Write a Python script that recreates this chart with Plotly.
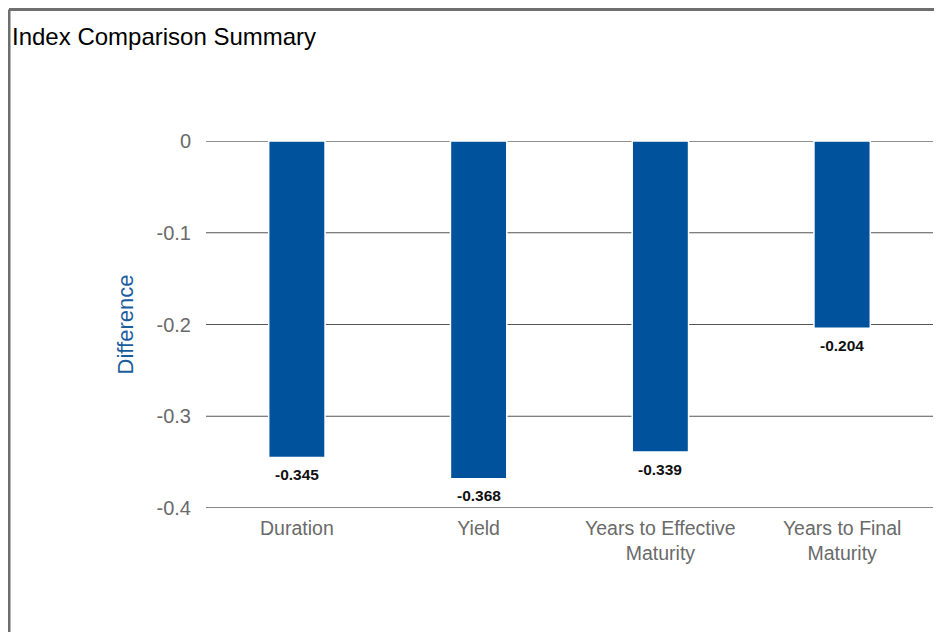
import plotly.graph_objects as go

categories = ["Duration", "Yield", "Years to Effective<br>Maturity", "Years to Final<br>Maturity"]
values = [-0.345, -0.368, -0.339, -0.204]
labels = ["-0.345", "-0.368", "-0.339", "-0.204"]
y_ticks = [0, -0.1, -0.2, -0.3, -0.4]
y_tick_text = ["0", "-0.1", "-0.2", "-0.3", "-0.4"]

FONT = "Liberation Sans, Arial, Helvetica, sans-serif"
W, H = 942, 632
L, R, T, B = 198, 17, 133, 132
PW = W - L - R
PH = H - T - B

fig = go.Figure()
fig.add_trace(go.Bar(
    x=categories, y=values,
    marker=dict(color="#00529c", line=dict(color="white", width=1.5)),
    hoverinfo="skip",
))

for c, v, t in zip(categories, values, labels):
    fig.add_annotation(x=c, y=v, text="<b>" + t + "</b>", showarrow=False,
                       yanchor="middle", yshift=-17,
                       font=dict(family=FONT, size=15.5, color="#111111"))

# gridlines drawn beneath bars
for yv in y_ticks:
    col = "#222222" if yv == 0 else ("#8a8a8a" if yv == -0.4 else "#555555")
    w = 2 if yv == -0.4 else 1.2
    fig.add_shape(type="line", xref="paper", yref="y", x0=0, x1=1, y0=yv, y1=yv,
                  line=dict(color=col, width=w), layer="below")

# outer border (left and top)
bx = (1 - L) / PW
ty = 1 + (T - 1.5) / PH
fig.add_shape(type="line", xref="paper", yref="paper", x0=bx, x1=bx, y0=-0.5, y1=ty,
              line=dict(color="#6e6e6e", width=3))
fig.add_shape(type="line", xref="paper", yref="paper", x0=bx, x1=1.1, y0=ty, y1=ty,
              line=dict(color="#6e6e6e", width=3))

fig.update_layout(
    width=W, height=H,
    margin=dict(l=L, r=R, t=T, b=B, autoexpand=False),
    paper_bgcolor="white", plot_bgcolor="white",
    showlegend=False,
    bargap=0.69,
    font=dict(family=FONT, color="#666666"),
    title=dict(text="Index Comparison Summary", xref="container", x=4 / W, xanchor="left",
               y=1 - 29 / H, yref="container", yanchor="middle",
               font=dict(family=FONT, size=24, color="#000000")),
    xaxis=dict(showgrid=False, showline=False, zeroline=False, ticks="",
               ticklabelstandoff=6,
               tickfont=dict(family=FONT, size=19.5, color="#6a6a6a"), fixedrange=True),
    yaxis=dict(range=[-0.4, 0], tickvals=y_ticks, ticktext=y_tick_text,
               showgrid=False, zeroline=False, showline=False, ticks="",
               ticklabelstandoff=14,
               tickfont=dict(family=FONT, size=20, color="#6a6a6a"),
               title=dict(text="Difference", standoff=16,
                          font=dict(family=FONT, size=22, color="#1a5c9c"))),
)

fig.write_html("out.html")
